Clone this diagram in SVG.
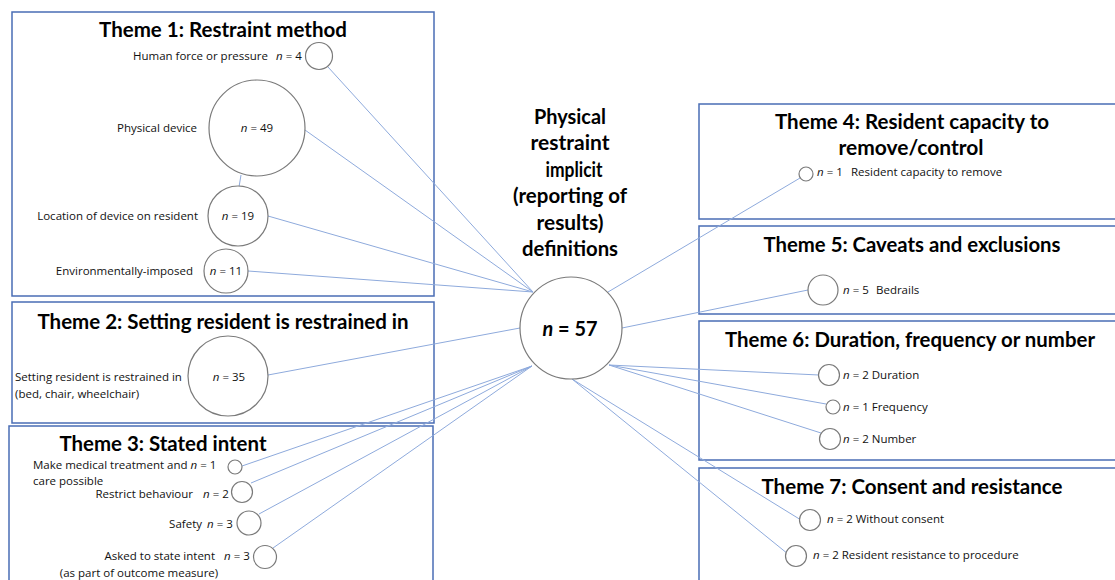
<svg xmlns="http://www.w3.org/2000/svg" width="1115" height="580" viewBox="0 0 1115 580">
  <style>
    .box { fill: none; stroke: #4a6db5; stroke-width: 1.5; }
    .hd { font-family: Lato, "Open Sans", "Liberation Sans", sans-serif; font-weight: bold; font-size: 21px; fill: #000; text-anchor: middle; }
    .lb { font-family: "Open Sans", "Liberation Sans", sans-serif; font-size: 11.5px; fill: #111; }
    .mid { text-anchor: middle; }
    .end { text-anchor: end; }
    .i { font-style: italic; }
    .bub { fill: #fff; stroke: #7a7a7a; stroke-width: 1.2; }
    .cn { stroke: #8eaadc; stroke-width: 1; fill: none; }
  </style>
  <rect width="1115" height="580" fill="#fff"/>

  <!-- theme frames -->
  <g id="theme-frames">
    <rect class="box" x="12" y="12" width="422" height="284"/>
    <rect class="box" x="12" y="302" width="422" height="121"/>
    <rect class="box" x="9" y="426" width="424" height="165"/>
    <rect class="box" x="699" y="104" width="425" height="115"/>
    <rect class="box" x="699" y="226" width="425" height="88"/>
    <rect class="box" x="699" y="321" width="425" height="139"/>
    <rect class="box" x="699" y="468" width="425" height="125"/>
  </g>

  <!-- connectors from the central node to each item -->
  <g id="connectors">
    <line class="cn" x1="533" y1="292" x2="328" y2="67"/>
    <line class="cn" x1="533" y1="292" x2="305" y2="130"/>
    <line class="cn" x1="533" y1="292" x2="268" y2="216"/>
    <line class="cn" x1="533" y1="292" x2="248" y2="271"/>
    <line class="cn" x1="241" y1="175" x2="239" y2="187"/>
    <line class="cn" x1="520" y1="328" x2="268" y2="375"/>
    <line class="cn" x1="532" y1="366" x2="242" y2="466"/>
    <line class="cn" x1="532" y1="366" x2="251" y2="483"/>
    <line class="cn" x1="532" y1="366" x2="259" y2="514"/>
    <line class="cn" x1="532" y1="366" x2="273" y2="548"/>
    <line class="cn" x1="608" y1="292" x2="800" y2="178"/>
    <line class="cn" x1="622" y1="328" x2="808" y2="290"/>
    <line class="cn" x1="609" y1="365" x2="819" y2="375"/>
    <line class="cn" x1="609" y1="365" x2="826" y2="404"/>
    <line class="cn" x1="609" y1="365" x2="821" y2="433"/>
    <line class="cn" x1="572" y1="379" x2="801" y2="520"/>
    <line class="cn" x1="572" y1="379" x2="788" y2="554"/>
  </g>

  <!-- central node -->
  <g id="centre">
    <text class="hd" x="570" y="124" font-size="20" textLength="72" lengthAdjust="spacingAndGlyphs">Physical</text>
    <text class="hd" x="570" y="150" font-size="20" textLength="79" lengthAdjust="spacingAndGlyphs">restraint</text>
    <text class="hd" x="574" y="177" font-size="20" textLength="57" lengthAdjust="spacingAndGlyphs">implicit</text>
    <text class="hd" x="570" y="203" font-size="20" textLength="114" lengthAdjust="spacingAndGlyphs">(reporting of</text>
    <text class="hd" x="570" y="230" font-size="20" textLength="67" lengthAdjust="spacingAndGlyphs">results)</text>
    <text class="hd" x="570" y="256" font-size="20" textLength="96" lengthAdjust="spacingAndGlyphs">definitions</text>
    <circle class="bub" cx="571" cy="328" r="51"/>
    <text class="hd" x="570" y="336" font-size="22" textLength="55" lengthAdjust="spacingAndGlyphs"><tspan class="i">n</tspan> = 57</text>
  </g>

  <!-- Theme 1 -->
  <g id="theme1">
    <text class="hd" x="223" y="37" textLength="248" lengthAdjust="spacingAndGlyphs">Theme 1: Restraint method</text>
    <g id="t1-human-force">
      <circle class="bub" cx="319" cy="56" r="13.5"/>
      <text class="lb end" x="268" y="60">Human force or pressure</text>
      <text class="lb" x="276" y="60"><tspan class="i">n</tspan> = 4</text>
    </g>
    <g id="t1-physical-device">
      <circle class="bub" cx="257" cy="128" r="48"/>
      <text class="lb end" x="197" y="132">Physical device</text>
      <text class="lb mid" x="257" y="132"><tspan class="i">n</tspan> = 49</text>
    </g>
    <g id="t1-location">
      <circle class="bub" cx="238" cy="216" r="30"/>
      <text class="lb end" x="198" y="220">Location of device on resident</text>
      <text class="lb mid" x="238" y="220"><tspan class="i">n</tspan> = 19</text>
    </g>
    <g id="t1-environmental">
      <circle class="bub" cx="226" cy="271" r="22"/>
      <text class="lb end" x="193" y="275">Environmentally-imposed</text>
      <text class="lb mid" x="226" y="275"><tspan class="i">n</tspan> = 11</text>
    </g>
  </g>

  <!-- Theme 2 -->
  <g id="theme2">
    <text class="hd" x="223" y="329" textLength="371" lengthAdjust="spacingAndGlyphs">Theme 2: Setting resident is restrained in</text>
    <g id="t2-setting">
      <circle class="bub" cx="228" cy="376" r="40"/>
      <text class="lb" x="15" y="381">Setting resident is restrained in</text>
      <text class="lb" x="15" y="398">(bed, chair, wheelchair)</text>
      <text class="lb mid" x="229" y="381"><tspan class="i">n</tspan> = 35</text>
    </g>
  </g>

  <!-- Theme 3 -->
  <g id="theme3">
    <text class="hd" x="163" y="451" textLength="207" lengthAdjust="spacingAndGlyphs">Theme 3: Stated intent</text>
    <g id="t3-medical">
      <circle class="bub" cx="235" cy="467" r="7"/>
      <text class="lb" x="33" y="469">Make medical treatment and <tspan class="i">n</tspan> = 1</text>
      <text class="lb" x="33" y="485">care possible</text>
    </g>
    <g id="t3-behaviour">
      <circle class="bub" cx="242" cy="492" r="10.5"/>
      <text class="lb end" x="193" y="498">Restrict behaviour</text>
      <text class="lb" x="203" y="498"><tspan class="i">n</tspan> = 2</text>
    </g>
    <g id="t3-safety">
      <circle class="bub" cx="249" cy="523" r="12"/>
      <text class="lb end" x="202" y="528">Safety</text>
      <text class="lb" x="207" y="528"><tspan class="i">n</tspan> = 3</text>
    </g>
    <g id="t3-asked">
      <circle class="bub" cx="265" cy="557" r="11.5"/>
      <text class="lb end" x="215" y="560">Asked to state intent</text>
      <text class="lb" x="224" y="560"><tspan class="i">n</tspan> = 3</text>
      <text class="lb mid" x="139" y="577">(as part of outcome measure)</text>
    </g>
  </g>

  <!-- Theme 4 -->
  <g id="theme4">
    <text class="hd" x="912" y="129" textLength="274" lengthAdjust="spacingAndGlyphs">Theme 4: Resident capacity to</text>
    <text class="hd" x="911" y="155" textLength="145" lengthAdjust="spacingAndGlyphs">remove/control</text>
    <g id="t4-capacity">
      <circle class="bub" cx="806" cy="174" r="7"/>
      <text class="lb" x="817" y="176"><tspan class="i">n</tspan> = 1</text>
      <text class="lb" x="851" y="176">Resident capacity to remove</text>
    </g>
  </g>

  <!-- Theme 5 -->
  <g id="theme5">
    <text class="hd" x="912" y="252" textLength="297" lengthAdjust="spacingAndGlyphs">Theme 5: Caveats and exclusions</text>
    <g id="t5-bedrails">
      <circle class="bub" cx="823" cy="290" r="15"/>
      <text class="lb" x="843" y="294"><tspan class="i">n</tspan> = 5</text>
      <text class="lb" x="876" y="294">Bedrails</text>
    </g>
  </g>

  <!-- Theme 6 -->
  <g id="theme6">
    <text class="hd" x="910" y="347" textLength="370" lengthAdjust="spacingAndGlyphs">Theme 6: Duration, frequency or number</text>
    <g id="t6-duration">
      <circle class="bub" cx="829" cy="375" r="10.5"/>
      <text class="lb" x="843" y="379"><tspan class="i">n</tspan> = 2 Duration</text>
    </g>
    <g id="t6-frequency">
      <circle class="bub" cx="833" cy="407" r="7"/>
      <text class="lb" x="843" y="411"><tspan class="i">n</tspan> = 1 Frequency</text>
    </g>
    <g id="t6-number">
      <circle class="bub" cx="830" cy="439" r="10.5"/>
      <text class="lb" x="843" y="443"><tspan class="i">n</tspan> = 2 Number</text>
    </g>
  </g>

  <!-- Theme 7 -->
  <g id="theme7">
    <text class="hd" x="912" y="494" textLength="301" lengthAdjust="spacingAndGlyphs">Theme 7: Consent and resistance</text>
    <g id="t7-consent">
      <circle class="bub" cx="810" cy="520" r="10.5"/>
      <text class="lb" x="827" y="523"><tspan class="i">n</tspan> = 2 Without consent</text>
    </g>
    <g id="t7-resistance">
      <circle class="bub" cx="796" cy="556" r="10.5"/>
      <text class="lb" x="813" y="559"><tspan class="i">n</tspan> = 2 Resident resistance to procedure</text>
    </g>
  </g>
</svg>
